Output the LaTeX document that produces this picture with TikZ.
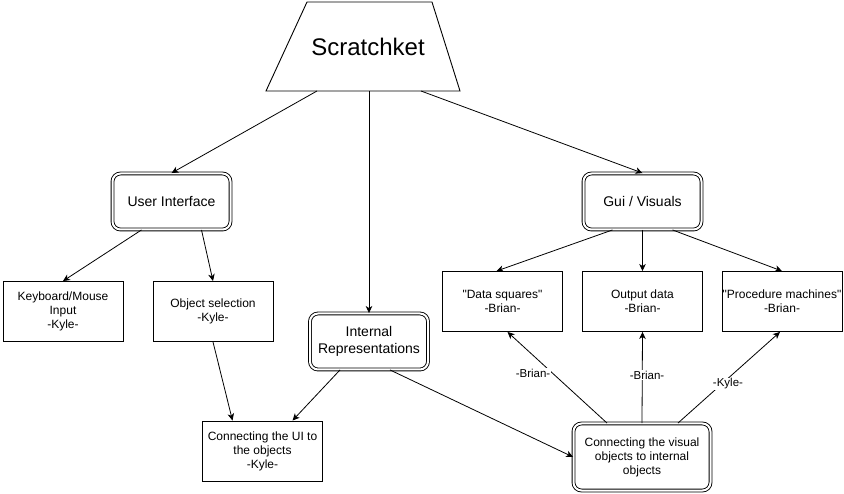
\documentclass[tikz,border=0pt]{standalone}
\usepackage{fontspec}
\setmainfont{Liberation Sans}
\usetikzlibrary{arrows.meta}

\tikzset{
  box/.style={draw, line width=0.9pt, minimum width=120pt, minimum height=60pt, inner sep=0pt, align=center, font=\fontsize{12}{14}\selectfont},
  dbox/.style={draw, line width=0.9pt, double, double distance=2pt, rounded corners=8pt, minimum width=118pt, minimum height=56pt, align=center, font=\fontsize{14}{16.5}\selectfont},
  arr/.style={line width=0.8pt, -{Stealth[length=7pt,width=6.5pt,inset=2pt]}},
  lbl/.style={fill=white, inner sep=1pt, font=\fontsize{11.5}{13}\selectfont},
}

\begin{document}
\begin{tikzpicture}[x=1pt,y=-1pt]
\useasboundingbox (0,0) rectangle (844,494);
%
\node[minimum width=184pt, minimum height=89pt, outer sep=0pt, font=\fontsize{24}{28}\selectfont] (title) at (368,46.5) {Scratchket};
\draw[line width=0.9pt] ([xshift=-10pt]title.south west) -- ([xshift=31pt]title.north west)
  -- ([xshift=-28pt]title.north east) -- (title.south east) -- cycle;
\node[dbox] (ui) at (171.5,201.5) {User Interface};
\node[dbox] (gui) at (642.5,201.5) {Gui / Visuals};
\node[dbox] (ir) at (369,341.5) {Internal\\Representations};
\node[box] (km) at (63,311.5) {Keyboard/Mouse\\Input\\-Kyle-};
\node[box] (os) at (213,311.5) {Object selection\\-Kyle-};
\node[box] (ds) at (502.5,301.5) {\textquotedbl Data squares\textquotedbl\\-Brian-};
\node[box] (od) at (642.5,301.5) {Output data\\-Brian-};
\node[box] (pm) at (782,301.5) {\textquotedbl Procedure machines\textquotedbl\\-Brian-};
\node[box] (cui) at (262.5,451) {Connecting the UI to\\the objects\\-Kyle-};
\node[dbox, minimum width=137pt, minimum height=67pt, font=\fontsize{12}{14}\selectfont] (cv) at (642,457) {Connecting the visual\\objects to internal\\objects};
%
\draw[arr] ([xshift=-51pt]title.south) -- (ui.north);
\draw[arr] ([xshift=1pt]title.south) -- (ir.north);
\draw[arr] ([xshift=53pt]title.south) -- (gui.north);
\draw[arr] ([xshift=-30pt]ui.south) -- (km.north);
\draw[arr] ([xshift=30pt]ui.south) -- (os.north);
\draw[arr] (os.south) -- ([xshift=-30pt]cui.north);
\draw[arr] ([xshift=-29pt]ir.south) -- ([xshift=30pt]cui.north);
\draw[arr] ([xshift=21pt]ir.south) -- (cv.west);
\draw[arr] ([xshift=-30pt]gui.south) -- ([xshift=-6pt]ds.north);
\draw[arr] (gui.south) -- (od.north);
\draw[arr] ([xshift=30pt]gui.south) -- (pm.north);
\draw[arr] ([xshift=-35pt]cv.north) -- ([xshift=5pt]ds.south);
\draw[arr] (cv.north) -- (od.south);
\draw[arr] ([xshift=36pt]cv.north) -- ([xshift=-2pt]pm.south);
%
\node[lbl] (lbrian1) at (533,373) {-Brian-};
\node[lbl] (lbrian2) at (647,375) {-Brian-};
\node[lbl] (lkyle) at (728,384) {-Kyle-};
\end{tikzpicture}
\end{document}
